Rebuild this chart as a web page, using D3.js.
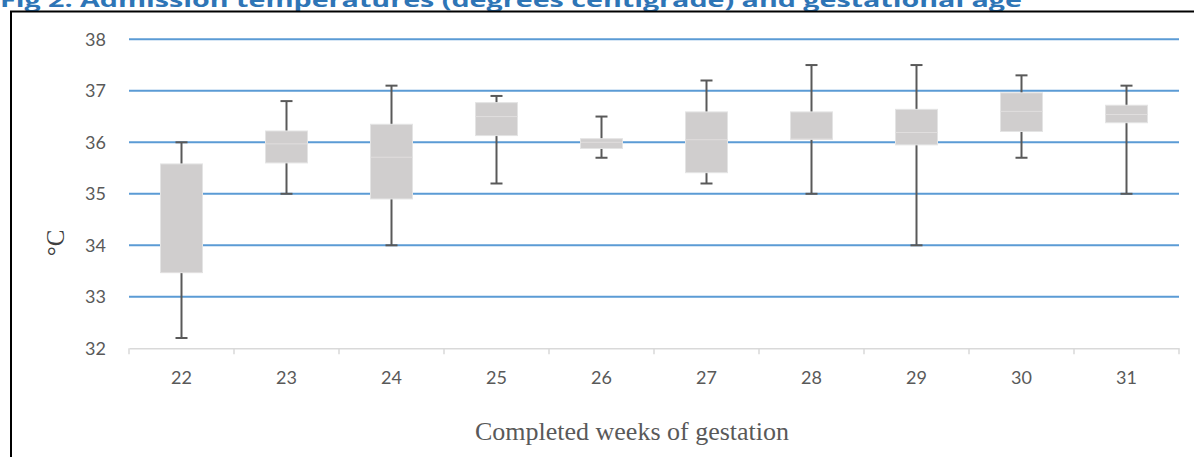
<!DOCTYPE html>
<meta charset="utf-8">
<script src="https://d3js.org/d3.v7.min.js"></script>
<style>
  body { margin: 0; background: #fff; }
</style>
<div id="chart"></div>
<script>

// weeks of gestation and admission temperature summaries (degrees C)
var weeks    = ["22", "23", "24", "25", "26", "27", "28", "29", "30", "31"];
var whiskLow = [32.2, 35.0, 34.0, 35.2, 35.7, 35.2, 35.0, 34.0, 35.7, 35.0];
var q1       = [33.47, 35.6, 34.9, 36.13, 35.88, 35.41, 36.06, 35.95, 36.21, 36.38];
var median   = [33.47, 35.97, 35.71, 36.5, 36.0, 36.05, 36.06, 36.19, 36.6, 36.54];
var q3       = [35.58, 36.22, 36.35, 36.77, 36.07, 36.59, 36.59, 36.64, 36.96, 36.72];
var whiskHigh= [36.0, 36.8, 37.1, 36.9, 36.5, 37.2, 37.5, 37.5, 37.3, 37.1];
var yTicks   = [32, 33, 34, 35, 36, 37, 38];

var W = 1194, H = 457;
var margin = {top: 39.3, left: 129, right: W - 1179, bottom: H - 348.3};

var svg = d3.select("#chart").append("svg")
    .attr("width", W)
    .attr("height", H);

// title, clipped at the top of the page like in the source figure
svg.append("text")
    .attr("x", 0)
    .attr("y", 7)
    .attr("fill", "#2e75b6")
    .attr("font-family", "Open Sans, sans-serif")
    .attr("font-weight", "bold")
    .attr("font-size", 20)
    .attr("textLength", 1022)
    .attr("lengthAdjust", "spacingAndGlyphs")
    .text("Fig 2. Admission temperatures (degrees centigrade) and gestational age");

// frame around the figure
svg.append("path")
    .attr("d", "M11," + (H + 5) + "V11.5H" + (W + 5))
    .attr("fill", "none")
    .attr("stroke", "#000")
    .attr("stroke-width", 2);

var x = d3.scaleBand()
    .domain(weeks)
    .range([margin.left, W - margin.right]);

var y = d3.scaleLinear()
    .domain([32, 38])
    .range([H - margin.bottom, margin.top]);

// horizontal gridlines
svg.append("g")
  .selectAll("line")
  .data(yTicks.slice(1))
  .enter().append("line")
    .attr("x1", margin.left)
    .attr("x2", W - margin.right)
    .attr("y1", function(d) { return y(d); })
    .attr("y2", function(d) { return y(d); })
    .attr("stroke", "#5b9bd5")
    .attr("stroke-width", 2);

// y axis labels
var yAxis = svg.append("g")
    .attr("transform", "translate(" + margin.left + ",0)")
    .call(d3.axisLeft(y).tickValues(yTicks).tickSize(0).tickPadding(23).tickFormat(d3.format("d")));
yAxis.select(".domain").remove();
yAxis.selectAll("text")
    .attr("fill", "#595959")
    .attr("font-family", "Lato, sans-serif")
    .attr("font-size", 18);

// x axis
var xAxis = svg.append("g")
    .attr("transform", "translate(0," + y(32) + ")")
    .call(d3.axisBottom(x).tickSize(0).tickPadding(23));
xAxis.select(".domain")
    .attr("stroke", "#d9d9d9")
    .attr("stroke-width", 1.5);
xAxis.selectAll("text")
    .attr("fill", "#595959")
    .attr("font-family", "Lato, sans-serif")
    .attr("font-size", 18);

// tick marks between categories
svg.append("g")
  .selectAll("line")
  .data(weeks.concat(["end"]))
  .enter().append("line")
    .attr("x1", function(d, i) { return x.range()[0] + i * x.step(); })
    .attr("x2", function(d, i) { return x.range()[0] + i * x.step(); })
    .attr("y1", y(32))
    .attr("y2", y(32) + 6)
    .attr("stroke", "#d9d9d9")
    .attr("stroke-width", 1.5);

var boxW = x.bandwidth() * 0.4;
var capW = 12;

var g = svg.append("g")
  .selectAll("g")
  .data(weeks)
  .enter().append("g")
    .attr("transform", function(d) { return "translate(" + (x(d) + x.bandwidth() / 2) + ",0)"; });

// whiskers
g.append("line")
    .attr("y1", function(d, i) { return y(whiskHigh[i]); })
    .attr("y2", function(d, i) { return y(whiskLow[i]); })
    .attr("stroke", "#595959")
    .attr("stroke-width", 2);
g.append("line")
    .attr("x1", -capW / 2).attr("x2", capW / 2)
    .attr("y1", function(d, i) { return y(whiskHigh[i]); })
    .attr("y2", function(d, i) { return y(whiskHigh[i]); })
    .attr("stroke", "#595959")
    .attr("stroke-width", 2);
g.append("line")
    .attr("x1", -capW / 2).attr("x2", capW / 2)
    .attr("y1", function(d, i) { return y(whiskLow[i]); })
    .attr("y2", function(d, i) { return y(whiskLow[i]); })
    .attr("stroke", "#595959")
    .attr("stroke-width", 2);

// boxes
g.append("rect")
    .attr("x", -boxW / 2)
    .attr("width", boxW)
    .attr("y", function(d, i) { return y(q3[i]); })
    .attr("height", function(d, i) { return y(q1[i]) - y(q3[i]); })
    .attr("fill", "#d0cece")
    .attr("stroke", "#e4e4e4")
    .attr("stroke-width", 1);

// medians
g.append("line")
    .attr("x1", -boxW / 2).attr("x2", boxW / 2)
    .attr("y1", function(d, i) { return y(median[i]); })
    .attr("y2", function(d, i) { return y(median[i]); })
    .attr("stroke", "#e0dede")
    .attr("stroke-width", 1);

// axis titles
svg.append("text")
    .attr("transform", "translate(64,243) rotate(-90)")
    .attr("text-anchor", "middle")
    .attr("fill", "#404040")
    .attr("font-family", "Liberation Serif, serif")
    .attr("font-size", 25)
    .text("°C");

svg.append("text")
    .attr("x", 632)
    .attr("y", 440)
    .attr("text-anchor", "middle")
    .attr("fill", "#595959")
    .attr("font-family", "Liberation Serif, serif")
    .attr("font-size", 26)
    .text("Completed weeks of gestation");

</script>
